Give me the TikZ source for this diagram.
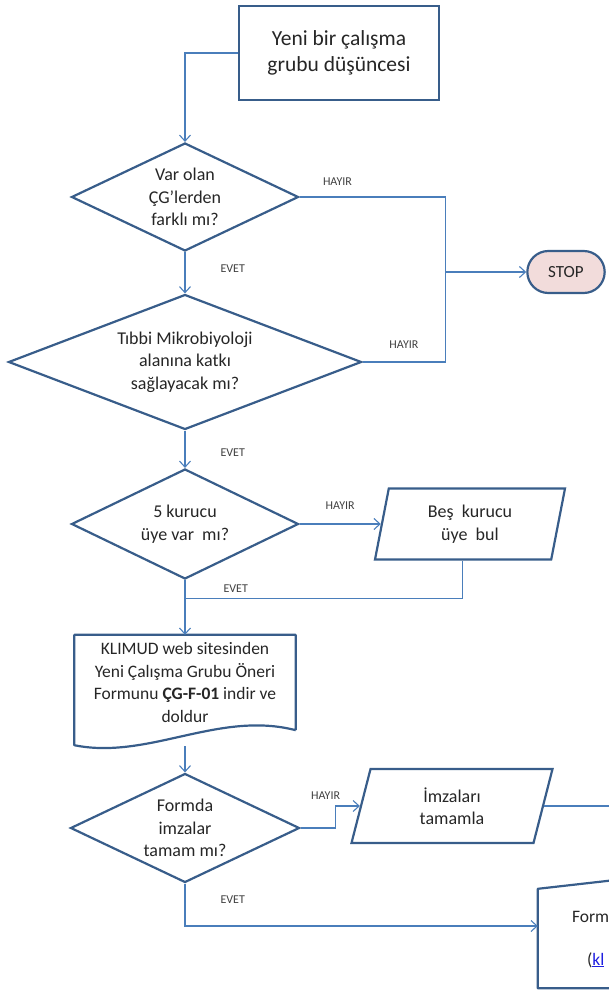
\documentclass[tikz,border=0pt]{standalone}
\usepackage{fontspec}
\setmainfont{Carlito}
\usetikzlibrary{shapes.geometric, shapes.misc, positioning, arrows.meta}

\definecolor{edgeblue}{HTML}{4A7EBB}
\definecolor{lineblue}{HTML}{385D8A}
\definecolor{stoppink}{HTML}{F2DCDB}
\definecolor{inkgray}{HTML}{262626}
\definecolor{linkblue}{HTML}{1F1FE0}

\begin{document}
\begin{tikzpicture}[x=1pt, y=-1pt, on grid, auto,
   >={Straight Barb[length=6pt, width=11pt]},
   every node/.style={text=inkgray},
   box/.style={draw=lineblue, line width=2.2pt, align=center, inner sep=0pt},
   decision/.style={diamond, draw=lineblue, line width=2.2pt, align=center, inner sep=0pt,
      font=\fontsize{18}{22.5}\selectfont},
   io/.style={trapezium, trapezium stretches body, draw=lineblue, line width=2.2pt,
      align=center, inner sep=0pt, font=\fontsize{18}{22.5}\selectfont},
   lbl/.style={font=\fontsize{12}{14}\selectfont, text=black!75, inner sep=1pt},
   flow/.style={edgeblue, line width=1.1pt}]
   \useasboundingbox (0,0) rectangle (609,995);
   \clip (0,0) rectangle (609,995);

   \node[box, minimum width=200pt, minimum height=94pt, font=\fontsize{21.5}{26.5}\selectfont] (idea) at (339,53) {Yeni bir çalışma\\grubu düşüncesi};
   \node[decision, aspect=2.1, minimum width=227pt, minimum height=108pt] (diff) at (185,197) {Var olan\\ÇG’lerden\\farklı mı?};
   \node[rounded rectangle, draw=lineblue, line width=2.2pt, fill=stoppink, minimum width=84pt, minimum height=42pt, font=\fontsize{17}{20}\selectfont] (stop) at (566,272) {STOP};
   \node[decision, aspect=2.6, minimum width=353pt, minimum height=135pt] (contrib) [below=165pt of diff] {Tıbbi Mikrobiyoloji\\alanına katkı\\sağlayacak mı?};
   \node[decision, aspect=2.06, minimum width=227pt, minimum height=110pt] (founders) [below=162pt of contrib] {5 kurucu\\üye var\ \ mı?};
   \node[io, trapezium left angle=70, trapezium right angle=110, minimum width=190pt, minimum height=71pt] (find) [right=285pt of founders] {Beş\ \ kurucu\\üye\ \ bul};
   \node[align=center, minimum width=221pt, minimum height=95pt, inner sep=0pt, font=\fontsize{17.5}{22.5}\selectfont] (form) [below=158.5pt of founders] {KLIMUD web sitesinden\\Yeni Çalışma Grubu Öneri\\Formunu \textbf{ÇG-F-01} indir ve\\doldur};
   \node[decision, aspect=2.1, minimum width=229pt, minimum height=109pt] (check) [below=145.5pt of form] {Formda\\imzalar\\tamam mı?};
   \node[io, trapezium left angle=63, trapezium right angle=117, minimum width=201pt, minimum height=74pt] (sign) [above right=22pt and 267pt of check] {İmzaları\\tamamla};
   \node[minimum width=220pt, minimum height=124pt, inner sep=0pt] (send) [below right=98pt and 463pt of check] {};
   \node[anchor=west, inner sep=0pt, font=\fontsize{17.5}{21}\selectfont] (sendtop) at ([xshift=34pt, yshift=9pt]send.west) {Form};
   \node[anchor=west, inner sep=0pt, font=\fontsize{17.5}{21}\selectfont] (sendlink) at ([xshift=49pt, yshift=-34pt]send.west) {(\textcolor{linkblue}{\underline{kl}}};

   % document and manual input outlines
   \draw[lineblue, line width=2.2pt, line join=round] (form.south east) -- (form.north east) -- (form.north west)
      -- ([yshift=-15pt]form.south west) .. controls +(74pt,-15pt) and +(-77pt,20pt) .. (form.south east);
   \draw[lineblue, line width=2.2pt, line join=round] ([yshift=-25pt]send.north west) -- (send.north east)
      -- (send.south east) -- (send.south west) -- cycle;

   \coordinate[left=81pt of stop.west] (split);
   \coordinate[below=18pt of founders.south] (merge);

   \draw[flow, ->] (idea.west) -| (diff.north);
   \draw[flow] (diff.east) -| node[lbl, pos=0.13, above=10pt] {HAYIR} (split);
   \draw[flow] (contrib.east) -| node[lbl, pos=0.25, above=12pt] {HAYIR} (split);
   \draw[flow] (find.bottom side) |- (merge);
   \draw[flow, ->] (check.east) -- ++(35pt,0pt) |- node[lbl, pos=0.5, anchor=south east, xshift=6pt, yshift=5pt] {HAYIR} (sign.left side);
   \draw[flow, ->] (sign.right side) -| (send.north);
   \draw[flow, ->] (check.south) |- node[lbl, pos=0.19, right=34pt] {EVET} (send.west);

   \path[flow, ->]
    (split) edge (stop)
    (diff) edge node[lbl, pos=0.39, right=34pt] {EVET} (contrib)
    (contrib) edge node[lbl, pos=0.59, right=34pt] {EVET} (founders)
    (founders) edge node[lbl, pos=0.5, above=13pt] {HAYIR} (find.left side)
    (founders) edge node[lbl, pos=0.16, right=37pt] {EVET} (form)
    ([yshift=-16pt]form.south) edge (check);
\end{tikzpicture}
\end{document}
